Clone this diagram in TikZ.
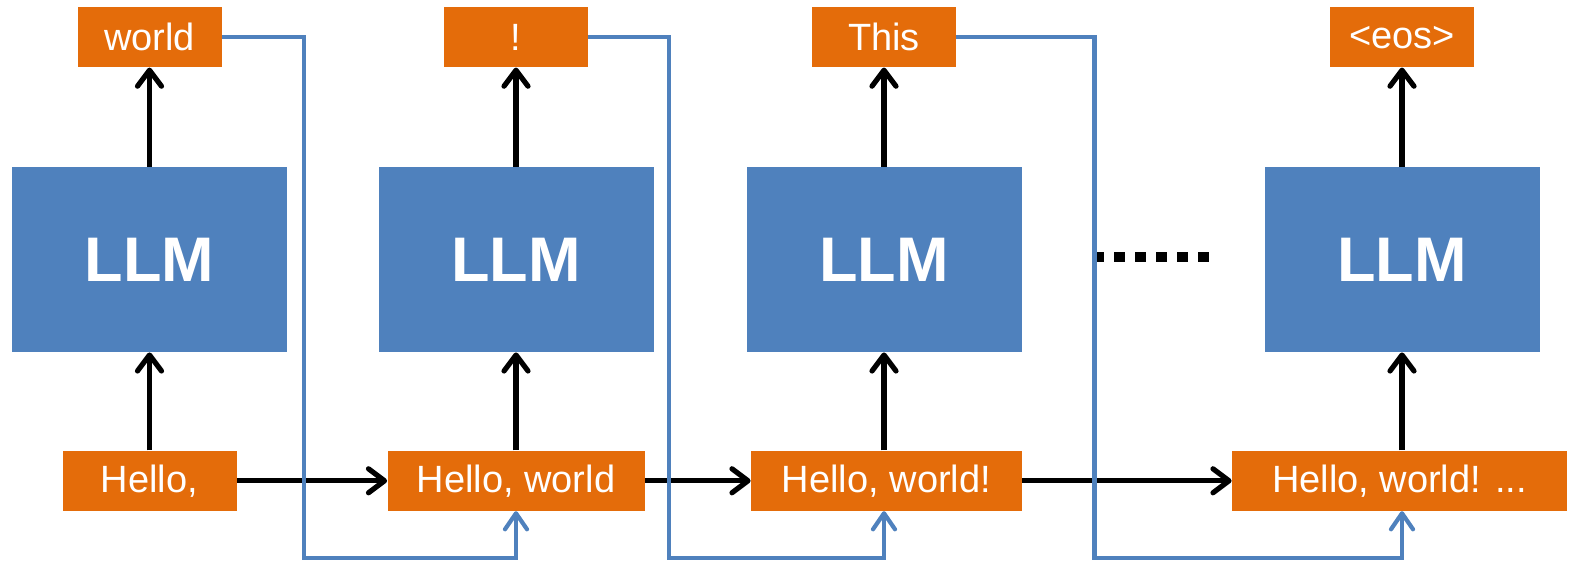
\documentclass[tikz,border=0pt]{standalone}
\usepackage{fontspec}
\setmainfont{Liberation Sans}
\usepackage{xcolor}
\usepackage{tikz}
\usetikzlibrary{arrows.meta,positioning}

\definecolor{tokenorange}{HTML}{E46C0A}
\definecolor{llmblue}{HTML}{4F81BD}

\begin{document}
\begin{tikzpicture}[
    x=0.5pt, y=-0.5pt,
    token/.style={
      fill=tokenorange,
      text=white,
      minimum height=30pt,
      inner sep=0pt,
      font=\fontsize{19}{22}\selectfont
    },
    llm/.style={
      fill=llmblue,
      text=white,
      minimum width=137.5pt,
      minimum height=92.5pt,
      inner sep=0pt,
      font=\fontsize{31.5}{36}\selectfont\bfseries
    },
    flow/.style={-{Straight Barb[length=8pt,width=12pt,round]}, line width=2.6pt},
    feed/.style={-{Straight Barb[length=8pt,width=11pt,round]}, line width=2.1pt, draw=llmblue}
  ]
  \useasboundingbox (0,0) rectangle (1569,565);

  % the model, four times
  \node[llm] (llm1) at (149.5,259.5) {LLM};
  \node[llm] (llm2) at (516,259.5) {LLM};
  \node[llm] (llm3) at (884,259.5) {LLM};
  \node[llm] (llm4) at (1402,259.5) {LLM};

  % generated tokens
  \node[token, minimum width=72pt, above=49.5pt of llm1] (out1) {world};
  \node[token, minimum width=72pt, above=49.5pt of llm2] (out2) {!};
  \node[token, minimum width=72pt, above=49.5pt of llm3] (out3) {This};
  \node[token, minimum width=72pt, above=49.5pt of llm4] (out4) {<eos>};

  % inputs
  \node[token, minimum width=87pt, below=49pt of llm1] (in1) {Hello,};
  \node[token, minimum width=128.5pt, below=49pt of llm2] (in2) {Hello, world};
  \node[token, minimum width=135.5pt, below=49pt of llm3, xshift=1.25pt] (in3) {Hello, world!};
  \node[token, minimum width=167.5pt, below=49pt of llm4, xshift=-1.25pt] (in4) {Hello, world! ...};

  % skipped steps
  \foreach \i in {0,...,5}
    \fill (1093+\i*21,252) rectangle ++(11,10);

  \foreach \n in {1,...,4} {
    \draw[flow] (llm\n.south |- in\n.north) -- (llm\n.south);
    \draw[flow] (llm\n) -- (out\n);
  }

  \draw[flow] (in1) -- (in2);
  \draw[flow] (in2) -- (in3);
  \draw[flow] (in3) -- (in4);

  % feeding the token back
  \draw[feed] (out1.east) -| (304,558) -| (llm2.south |- in2.south);
  \draw[feed] (out2.east) -| (669,558) -| (llm3.south |- in3.south);
  \draw[feed] (out3.east) -| (1094.5,558) -| (llm4.south |- in4.south);
\end{tikzpicture}
\end{document}
